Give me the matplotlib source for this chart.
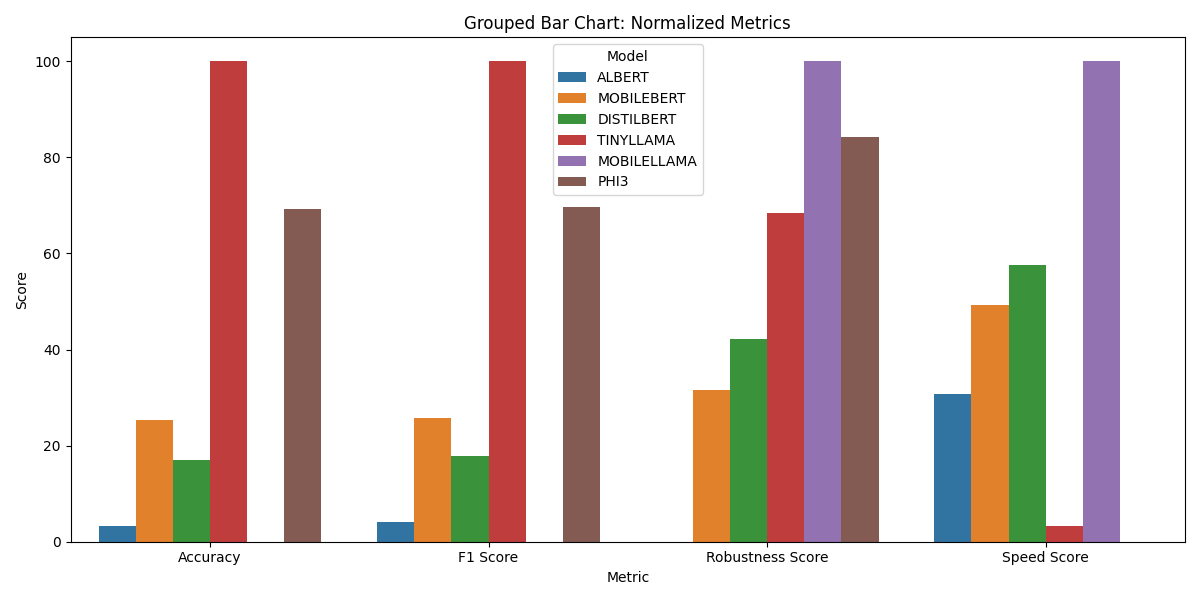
import matplotlib
matplotlib.use("Agg")
import matplotlib.pyplot as plt
import pandas as pd
import seaborn as sns

metrics = ["Accuracy", "F1 Score", "Robustness Score", "Speed Score"]
models = ["ALBERT", "MOBILEBERT", "DISTILBERT", "TINYLLAMA", "MOBILELLAMA", "PHI3"]

albert      = [3.3, 4.2, 0.0, 30.8]
mobilebert  = [25.4, 25.8, 31.6, 49.3]
distilbert  = [17.0, 17.9, 42.2, 57.6]
tinyllama   = [100.0, 100.0, 68.4, 3.3]
mobilellama = [0.0, 0.0, 100.0, 100.0]
phi3        = [69.2, 69.6, 84.2, 0.0]

series = [albert, mobilebert, distilbert, tinyllama, mobilellama, phi3]
rows = []
for name, vals in zip(models, series):
    for m, v in zip(metrics, vals):
        rows.append({"Metric": m, "Model": name, "Score": v})
df = pd.DataFrame(rows)

fig, ax = plt.subplots(figsize=(12, 6), dpi=100)
sns.barplot(data=df, x="Metric", y="Score", hue="Model", ax=ax)
ax.set_title("Grouped Bar Chart: Normalized Metrics")
ax.legend(title="Model", loc="upper center")
plt.tight_layout()
plt.savefig("out.png", dpi=100, facecolor="white")
